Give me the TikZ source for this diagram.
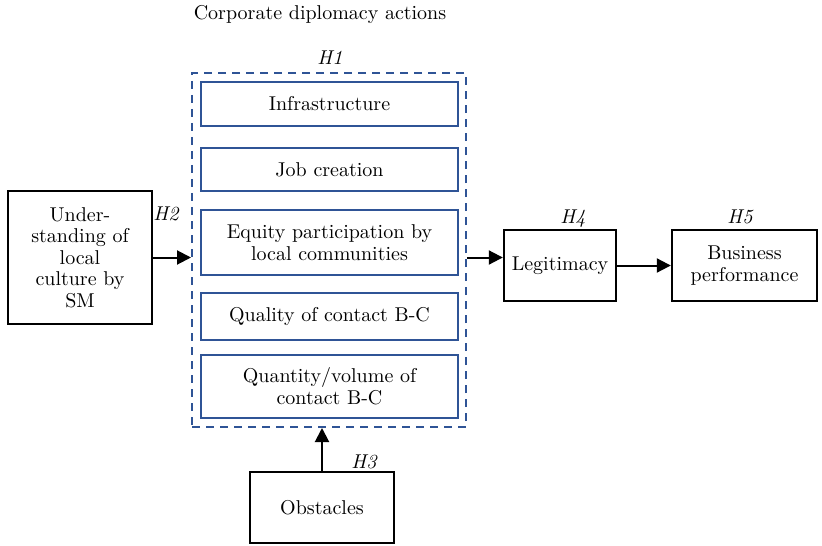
\documentclass[tikz,border=0pt]{standalone}
\usepackage{tikz}
\usetikzlibrary{arrows.meta, positioning, calc}
\usepackage{xcolor}
\definecolor{actblue}{RGB}{47,84,150}

\begin{document}
\begin{tikzpicture}[x=0.5pt, y=-0.5pt, thick, >={Triangle[length=7pt,width=7pt]}, font=\fontsize{10}{10.8}\selectfont]
		
		% Define block styles
		\tikzstyle{box} = [rectangle, draw, line width=1.2pt, text centered, align=center, inner sep=2pt]
		\tikzstyle{action} = [rectangle, draw=actblue, line width=1pt, minimum width=128.5pt, text centered, align=center, inner sep=1pt]
		\tikzstyle{hyp} = [font=\fontsize{10}{10.8}\selectfont\itshape]
		\tikzstyle{link} = [->, line width=1pt]
		
		\useasboundingbox (0,0) rectangle (822,545);
		
		% Nodes
		\node[rectangle, draw=actblue, dashed, dash pattern=on 4pt off 3pt, line width=1pt, minimum width=137pt, minimum height=177pt] (actions) at (329,250) {};
		\node[action, minimum height=22pt] (infra) at (329.5,104) {Infrastructure};
		\node[action, minimum height=21.5pt] (jobs) at (329.5,169.5) {Job creation};
		\node[action, minimum height=32.5pt] (equity) at (329.5,242.5) {Equity participation by\\local communities};
		\node[action, minimum height=23.5pt] (quality) at (329.5,316.5) {Quality of contact B-C};
		\node[action, minimum height=31.5pt] (quantity) at (329.5,386.5) {Quantity/volume of\\contact B-C};
		
		\node[box, minimum width=72pt, minimum height=66.5pt] (culture) at (80,257.5) {Under-\\standing of\\local\\culture by\\SM};
		\node[box, minimum width=56pt, minimum height=35.5pt] (legit) at (560,265.5) {Legitimacy};
		\node[box, minimum width=72.5pt, minimum height=35.5pt] (perf) at (744.5,265.5) {Business\\performance};
		\node[box, minimum width=72pt, minimum height=35.5pt] (obst) at (322,507.5) {Obstacles};
		
		% Arrows
		\draw[link] (culture.east) -- (culture.east -| actions.west);
		\draw[link] (culture.east -| actions.east) -- (culture.east -| legit.west);
		\draw[link] (legit) -- (perf);
		\draw[link] (obst.north) -- (obst.north |- actions.south);
		
		% Labels
		\node (title) at (320,15) {Corporate diplomacy actions};
		\node[hyp] (h1) at (330,58) {H1};
		\node[hyp] (h2) at (166,214) {H2};
		\node[hyp] (h3) at (364,462) {H3};
		\node[hyp] (h4) at (573,219) {H4};
		\node[hyp] (h5) at (740,217) {H5};
		
	\end{tikzpicture}
\end{document}
